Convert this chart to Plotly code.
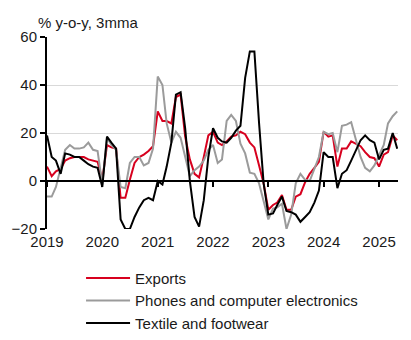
import plotly.graph_objects as go
import pandas as pd

months = pd.date_range("2019-01-01", periods=77, freq="MS")

exports = [6, 2, 4, 5, 8.5, 9.5, 10, 10, 10, 9, 8.5, 8,
           0.5, 15, 14, 13.5, -7, -7, 0.5, 7.5, 10, 11, 12.5, 14.5,
           29, 25, 25, 24, 35, 36, 18.5, 9, 3, 1.5, 10, 19,
           20.5, 16, 15, 16.5, 18.5, 19, 20.5, 19.5, 16, 14, 6.5, -1,
           -12, -10, -9, -5.8, -12, -12, -6.5, -5.5, -0.5, 3, 5.5, 8,
           20.5, 18.5, 19, 6, 13.5, 13.5, 16.5, 15.5, 14.5, 12, 10, 9.5,
           6, 11, 12, 19, 17]

phones = [-6.5, -6.5, -2.5, 6, 13, 15, 13.5, 13.5, 14, 16, 13, 12.5,
          -1.5, 18, 15, 13, -2.5, -3, 7.5, 10, 10, 6.5, 7.5, 13.5,
          43.5, 40, 24, 16, 20.5, 18, 10, 2, 4.5, 6, 8.5, 13,
          15, 7.5, 9, 25, 27.5, 25, 15.5, 11.5, 3.5, 3, -1, -8,
          -16, -11.5, -11, -9.5, -20, -14, -1, 3, 0.5, 0, 5, 10,
          20.5, 19.5, 20, 12, 23, 23.5, 24.5, 17, 10, 5.5, 4, 6.5,
          10.5, 15, 24, 27, 29]

textile = [19, 10, 8.5, 3, 11.5, 11, 10, 10, 8.5, 7, 6, 5.5,
           -2.5, 18.5, 16, 13.5, -16, -20, -20, -15, -11, -8, -7, -8,
           0, -1.5, 6, 16, 36, 37, 22, 0, -15, -19, -8, 10,
           22, 18, 16.5, 16, 18, 21, 23, 43, 54, 54, 24, -1,
           -14, -13.5, -10, -6.5, -12.5, -13, -14, -17, -15, -13, -9, -4,
           12, 10, 10, -3, 3, 4.5, 8.5, 13, 17, 19, 17, 16,
           9, 13, 13.5, 20, 13.5]

series_names = ["Exports", "Phones and computer electronics", "Textile and footwear"]
colors = ["#d7001e", "#9b9b9b", "#000000"]
year_ticks = [f"{y}-01-01" for y in range(2019, 2026)]
year_labels = [str(y) for y in range(2019, 2026)]

font = "Liberation Sans, Arial, sans-serif"
fig = go.Figure()
for name, vals, col in zip(series_names, [exports, phones, textile], colors):
    fig.add_trace(go.Scatter(x=months, y=vals, name=name, mode="lines",
                             line=dict(color=col, width=2)))
# helper trace for the tick axis at the zero line
fig.add_trace(go.Scatter(x=[months[0]], y=[None], xaxis="x2", yaxis="y",
                         showlegend=False, hoverinfo="skip", mode="lines"))

xr = ["2019-01-01", "2025-05-06"]
fig.update_layout(
    width=411, height=340,
    margin=dict(l=47, r=13, t=37, b=111, autoexpand=False),
    paper_bgcolor="white", plot_bgcolor="white",
    font=dict(family=font, size=15, color="#1a1a1a"),
    xaxis=dict(range=xr, tickvals=year_ticks, ticktext=year_labels,
               showgrid=False, ticks="", showline=False, zeroline=False,
               ticklabelstandoff=2),
    xaxis2=dict(overlaying="x", anchor="free", position=0.25, side="bottom",
                range=xr, tickvals=year_ticks, showticklabels=False,
                ticks="outside", ticklen=5, tickwidth=1.5, tickcolor="black",
                showline=True, linecolor="black", linewidth=2,
                showgrid=False, zeroline=False),
    yaxis=dict(range=[-20, 60], dtick=20, showgrid=True, gridcolor="#d9d9d9",
               gridwidth=1, zeroline=False, showline=True, linecolor="black",
               linewidth=2, ticks="outside", ticklen=5, tickwidth=1.5,
               tickcolor="black"),
    legend=dict(x=0.097, y=-0.171, xanchor="left", yanchor="top",
                font=dict(size=15), itemwidth=44, bgcolor="rgba(0,0,0,0)"),
    annotations=[dict(text="% y-o-y, 3mma", xref="paper", yref="paper",
                      x=-0.031, y=1.078, xanchor="left", yanchor="middle",
                      showarrow=False, font=dict(size=15))],
)
fig.write_html("out.html")
